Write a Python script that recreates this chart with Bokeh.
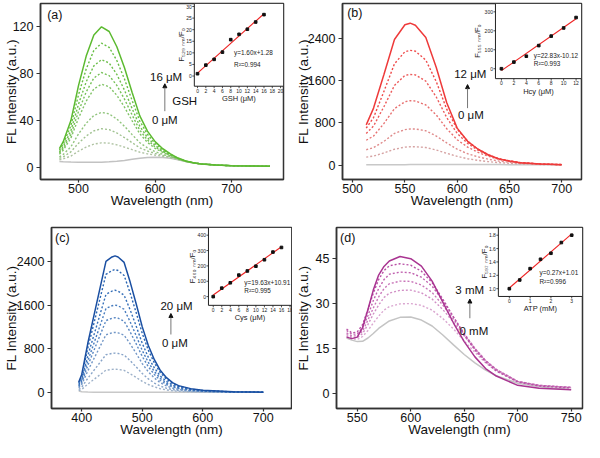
import math
from bokeh.plotting import figure
from bokeh.layouts import column, row
from bokeh.models import Range1d, FixedTicker, Arrow, NormalHead
from bokeh.core.properties import value
from bokeh.embed import file_html
from bokeh.resources import INLINE

FONT = "Liberation Sans"

# ---------------- data: panel (a) GSH ----------------
a_wl = [475, 480, 490, 500, 510, 520, 530, 540, 550, 560, 570, 580, 590, 600, 610, 620, 630, 640, 650, 660, 680, 700, 725, 750]
a_0 = [5.0, 4.8, 4.6, 4.5, 4.4, 4.4, 4.5, 4.8, 5.3, 6.0, 7.0, 7.8, 8.4, 8.6, 8.4, 7.8, 6.5, 5.0, 3.8, 3.0, 2.0, 1.5, 1.2, 1.0]
a_1 = [6.6, 7.3, 9.7, 13.9, 17.4, 19.9, 21.0, 20.7, 19.3, 17.3, 15.2, 13.0, 11.6, 10.5, 9.5, 8.3, 6.7, 5.1, 3.8, 3.0, 2.0, 1.5, 1.2, 1.0]
a_2 = [7.7, 9.0, 13.3, 20.7, 26.8, 31.2, 33.0, 32.3, 29.4, 25.5, 21.1, 16.7, 14.0, 11.9, 10.3, 8.7, 6.9, 5.1, 3.8, 3.0, 2.0, 1.5, 1.2, 1.0]
a_3 = [9.0, 11.1, 17.6, 28.6, 37.7, 44.4, 47.0, 45.7, 41.3, 35.1, 28.0, 21.1, 16.7, 13.5, 11.2, 9.2, 7.1, 5.2, 3.9, 3.0, 2.0, 1.5, 1.2, 1.0]
a_4 = [11.3, 14.7, 25.0, 42.2, 56.6, 67.0, 71.0, 68.9, 61.6, 51.5, 39.8, 28.7, 21.4, 16.3, 12.8, 9.9, 7.4, 5.3, 3.9, 3.0, 2.0, 1.5, 1.2, 1.0]
a_5 = [12.3, 16.2, 28.0, 47.9, 64.4, 76.3, 81.0, 78.4, 70.0, 58.3, 44.7, 31.8, 23.4, 17.5, 13.4, 10.2, 7.5, 5.3, 3.9, 3.0, 2.0, 1.5, 1.2, 1.0]
a_6 = [13.3, 17.8, 31.4, 54.1, 73.1, 86.7, 92.0, 89.1, 79.4, 65.9, 50.2, 35.2, 25.5, 18.8, 14.2, 10.6, 7.6, 5.4, 4.0, 3.0, 2.0, 1.5, 1.2, 1.0]
a_7 = [14.7, 19.9, 35.7, 62.1, 84.0, 99.9, 106.0, 102.5, 91.2, 75.4, 57.1, 39.6, 28.3, 20.4, 15.1, 11.1, 7.8, 5.4, 4.0, 3.0, 2.0, 1.5, 1.2, 1.0]
a_8 = [16, 22, 40, 70, 95, 113, 120, 116, 103, 85, 64, 44, 31, 22, 16, 11.5, 8, 5.5, 4.0, 3.0, 2.0, 1.5, 1.2, 1.0]
a_xticks = [500, 600, 700]
a_yticks = [0, 40, 80, 120]
gsh_x = [0, 2, 4, 6, 8, 10, 12, 14, 16]
gsh_y = [1.0, 4.7, 7.2, 10.3, 15.7, 18.0, 20.2, 23.3, 26.5]
gsh_fit_x = [0, 16]
gsh_fit_y = [1.28, 26.88]
gsh_xticks = [0, 2, 4, 6, 8, 10, 12, 14, 16, 18, 20]
gsh_yticks = [0, 5, 10, 15, 20, 25, 30]

# ---------------- data: panel (b) Hcy ----------------
b_wl = [513, 520, 530, 540, 550, 555, 560, 570, 580, 590, 600, 610, 620, 630, 640, 650, 660, 680, 700]
b_0 = [5, 5, 6, 7, 8, 9, 9, 10, 11, 12, 12, 12, 11, 10, 9, 8, 7, 5, 4]
b_1 = [150, 170, 230, 300, 340, 347, 347, 332, 285, 222, 165, 120, 88, 64, 46, 33, 23, 11, 5]
b_2 = [290, 330, 450, 600, 672, 684, 684, 650, 550, 420, 300, 215, 155, 110, 75, 52, 35, 16, 7]
b_3 = [470, 550, 790, 1070, 1200, 1219, 1215, 1140, 950, 690, 480, 340, 240, 165, 108, 72, 45, 19, 8]
b_4 = [600, 740, 1110, 1510, 1700, 1718, 1710, 1590, 1290, 900, 600, 410, 280, 185, 118, 76, 47, 20, 9]
b_5 = [700, 900, 1400, 1920, 2150, 2175, 2160, 1990, 1580, 1060, 680, 450, 300, 195, 120, 78, 48, 20, 9]
b_6 = [762, 1080, 1720, 2380, 2660, 2690, 2650, 2420, 1850, 1180, 700, 450, 300, 190, 115, 75, 45, 18, 8]
b_xticks = [500, 550, 600, 650, 700]
b_yticks = [0, 800, 1600, 2400]
hcy_x = [0, 2, 4, 6, 8, 10, 12]
hcy_y = [0, 35, 66, 122, 172, 215, 270]
hcy_fit_x = [0, 12]
hcy_fit_y = [-10.12, 263.8]
hcy_xticks = [0, 2, 4, 6, 8, 10, 12]
hcy_yticks = [0, 100, 200, 300]

# ---------------- data: panel (c) Cys ----------------
c_wl = [395, 400, 410, 420, 430, 440, 450, 455, 460, 470, 480, 490, 500, 510, 520, 530, 540, 550, 560, 580, 600, 650, 700]
c_0 = [25, 12, 8, 6, 5, 5, 5, 5, 5, 5, 5, 5, 5, 5, 5, 5, 5, 5, 5, 4, 4, 3, 3]
c_1 = [32, 56, 153, 238, 323, 408, 422, 425, 422, 405, 343, 275, 204, 146, 102, 68, 46, 31, 21, 12, 7, 2, 1]
c_2 = [55, 95, 259, 403, 547, 691, 714, 720, 714, 685, 582, 467, 346, 248, 173, 115, 78, 52, 36, 20, 12, 3, 1]
c_3 = [84, 145, 396, 616, 836, 1056, 1091, 1100, 1091, 1047, 889, 713, 528, 378, 264, 176, 119, 79, 55, 31, 18, 5, 2]
c_4 = [104, 181, 493, 767, 1041, 1315, 1359, 1370, 1359, 1304, 1107, 888, 658, 471, 329, 219, 148, 99, 69, 38, 22, 7, 3]
c_5 = [122, 211, 576, 896, 1216, 1536, 1587, 1600, 1587, 1523, 1293, 1037, 768, 550, 384, 256, 173, 115, 80, 45, 26, 8, 3]
c_6 = [142, 247, 673, 1047, 1421, 1795, 1855, 1870, 1855, 1780, 1511, 1212, 898, 643, 449, 299, 202, 135, 94, 52, 30, 9, 4]
c_7 = [171, 297, 810, 1260, 1710, 2160, 2232, 2250, 2232, 2142, 1818, 1458, 1080, 774, 540, 360, 243, 162, 113, 63, 36, 11, 5]
c_8 = [190, 330, 900, 1400, 1900, 2400, 2480, 2500, 2480, 2380, 2020, 1620, 1200, 860, 600, 400, 270, 180, 125, 70, 40, 12, 5]
c_xticks = [400, 500, 600, 700]
c_yticks = [0, 800, 1600, 2400]
cys_x = [0, 2, 4, 6, 8, 10, 12, 14, 16]
cys_y = [0, 55, 90, 140, 167, 198, 240, 290, 320]
cys_fit_x = [0, 16]
cys_fit_y = [10.91, 325.0]
cys_xticks = [0, 2, 4, 6, 8, 10, 12, 14, 16, 18]
cys_yticks = [0, 100, 200, 300, 400]

# ---------------- data: panel (d) ATP ----------------
d_wl = [540, 545, 550, 555, 560, 565, 570, 575, 580, 590, 600, 610, 620, 630, 640, 650, 660, 670, 680, 700, 720, 750]
d_0 = [18.5, 17.8, 17.3, 17.4, 18.5, 20.0, 21.7, 23.0, 24.2, 25.4, 25.5, 24.5, 22.5, 19.5, 16.2, 13.0, 10.2, 7.8, 5.9, 3.4, 2.2, 1.3]
d_1 = [19.2, 18.2, 18.0, 19.0, 21.0, 23.5, 25.8, 27.8, 29.0, 29.9, 30.0, 29.4, 27.8, 25.0, 21.5, 17.5, 13.7, 10.2, 7.5, 3.9, 2.5, 1.9]
d_2 = [19.7, 18.7, 18.6, 20.0, 23.0, 26.5, 29.5, 32.0, 33.5, 34.4, 34.5, 33.6, 31.5, 28.0, 23.8, 19.2, 14.8, 10.8, 7.9, 4.0, 2.6, 2.0]
d_3 = [20.2, 19.2, 19.2, 20.8, 24.5, 28.5, 32.2, 35.0, 36.6, 37.5, 37.4, 36.2, 33.7, 29.5, 24.8, 19.8, 15.0, 11.0, 8.0, 4.0, 2.7, 2.0]
d_4 = [21.0, 19.8, 19.8, 22.0, 26.0, 31.0, 35.0, 38.0, 39.8, 40.5, 40.3, 38.8, 35.8, 31.0, 25.5, 20.0, 15.0, 11.0, 8.0, 4.0, 2.7, 2.0]
d_5 = [21.5, 20.2, 20.5, 23.0, 28.0, 33.5, 38.0, 41.0, 42.6, 43.3, 42.8, 40.8, 37.0, 31.5, 25.5, 19.5, 14.5, 10.5, 7.5, 3.8, 2.5, 1.8]
d_6 = [18.8, 18.3, 18.8, 22.0, 28.0, 34.5, 39.5, 42.4, 44.2, 45.7, 45.0, 42.5, 37.5, 30.5, 23.5, 17.3, 12.2, 8.3, 5.8, 2.7, 1.7, 1.2]
d_xticks = [550, 600, 650, 700, 750]
d_yticks = [0, 15, 30, 45]
atp_x = [0, 0.5, 1, 1.5, 2, 2.5, 3]
atp_y = [1.00, 1.13, 1.30, 1.44, 1.53, 1.69, 1.80]
atp_fit_x = [0, 3]
atp_fit_y = [1.01, 1.82]
atp_xticks = [0, 1, 2, 3]
atp_yticks = [1.0, 1.2, 1.4, 1.6, 1.8]

W, H = 292, 221
DARK = "#333333"


def make_panel(cfg):
    bl, br, bt, bb = cfg["borders"]
    p = figure(width=W, height=H, x_range=Range1d(*cfg["xr"]), y_range=Range1d(*cfg["yr"]),
               output_backend="svg", toolbar_location=None,
               min_border_left=bl, min_border_right=br, min_border_top=bt, min_border_bottom=bb)
    p.grid.visible = False
    p.outline_line_color = DARK
    p.outline_line_width = 1.5
    p.outline_line_alpha = 1.0
    p.background_fill_color = "white"
    p.border_fill_color = "white"
    for ax in (p.xaxis[0], p.yaxis[0]):
        ax.axis_line_color = DARK
        ax.axis_line_width = 1.5
        ax.major_tick_line_color = DARK
        ax.major_tick_line_width = 1.2
        ax.major_tick_in = 0
        ax.minor_tick_line_color = None
        ax.major_label_text_font = FONT
        ax.major_label_text_font_size = "12.5px"
        ax.major_label_text_color = "#111111"
        ax.axis_label_text_font = FONT
        ax.axis_label_text_font_size = "13.5px"
        ax.axis_label_text_font_style = "normal"
        ax.axis_label_text_color = "#111111"
    p.xaxis.ticker = FixedTicker(ticks=cfg["xticks"])
    p.yaxis.ticker = FixedTicker(ticks=cfg["yticks"])
    p.xaxis.axis_label = "Wavelength (nm)"
    p.yaxis.axis_label = "FL Intensity (a.u.)"
    p.xaxis.major_tick_out = 3
    p.xaxis.major_label_standoff = 1
    p.xaxis.axis_label_standoff = -3
    p.yaxis.major_tick_out = 4
    p.yaxis.major_label_standoff = 3
    p.yaxis.axis_label_standoff = cfg["ylab_standoff"]

    wl = cfg["wl"]
    curves = cfg["curves"]
    colors = cfg["colors"]
    n = len(curves)
    for i, ys in enumerate(curves):
        if i == 0 or i == n - 1:
            p.line(wl, ys, line_color=colors[i], line_width=1.5)
        else:
            p.line(wl, ys, line_color=colors[i], line_width=1.4, line_dash="2 2")

    # annotations
    for (txt, x, y, size) in cfg["texts"]:
        p.text(x=[x], y=[y], text=[txt], text_font=value(FONT), text_font_size=value(size),
               text_align="left", text_baseline="middle", text_color="#111111")
    ax_, ay0, ay1 = cfg["arrow"]
    p.add_layout(Arrow(x_start=ax_, y_start=ay0, x_end=ax_, y_end=ay1,
                       line_color="#777777", line_width=1,
                       end=NormalHead(size=4, fill_color="#111111", line_color="#111111")))

    # inset
    ins = cfg["inset"]
    fw = W - bl - br
    fh = H - bt - bb
    fx0, fy0 = ins["fx0"], ins["fy0"]
    x0, x1 = ins["xlim"]
    y0, y1 = ins["ylim"]
    xspan = (x1 - x0) / (1 - fx0)
    yspan = (y1 - y0) / (1 - fy0)
    p.extra_x_ranges = {"ix": Range1d(x0 - fx0 * xspan, x1)}
    p.extra_y_ranges = {"iy": Range1d(y0 - fy0 * yspan, y1)}
    kx = fw / xspan
    ky = fh / yspan
    R = dict(x_range_name="ix", y_range_name="iy")
    p.quad(left=[x0], right=[x1], bottom=[y0], top=[y1], fill_color="white",
           line_color="#222222", line_width=1, **R)
    xt = ins["xticks"]
    yt = ins["yticks"]
    tl = 2.0
    p.segment(x0=xt, y0=[y0] * len(xt), x1=xt, y1=[y0 - tl / ky] * len(xt),
              line_color="#222222", line_width=0.8, **R)
    p.segment(x0=[x0] * len(yt), y0=yt, x1=[x0 - tl / kx] * len(yt), y1=yt,
              line_color="#222222", line_width=0.8, **R)
    p.text(x=xt, y=[y0] * len(xt), text=ins["xlabels"], text_align="center", text_baseline="top",
           y_offset=2.5, text_font=value(FONT), text_font_size=value("5px"), text_color="#222222", **R)
    p.text(x=[x0] * len(yt), y=yt, text=ins["ylabels"], text_align="right", text_baseline="middle",
           x_offset=-2.5, text_font=value(FONT), text_font_size=value("5px"), text_color="#222222", **R)
    p.text(x=[(x0 + x1) / 2], y=[y0], text=[ins["xtitle"]], text_align="center", text_baseline="middle",
           y_offset=12.5, text_font=value(FONT), text_font_size=value("7.5px"), text_color="#222222", **R)
    p.text(x=[x0], y=[(y0 + y1) / 2], text=[ins["ytitle"]], text_align="center", text_baseline="middle",
           x_offset=ins["ytitle_off"], angle=math.pi / 2, text_font=value(FONT),
           text_font_size=value("7.5px"), text_color="#222222", **R)
    p.line(ins["fit_x"], ins["fit_y"], line_color="#EE2222", line_width=1.1, **R)
    p.scatter(ins["x"], ins["y"], marker="square", size=2.6, fill_color="#111111", line_color="#111111", **R)
    ex, ey1, ey2 = ins["eq_pos"]
    p.text(x=[ex, ex], y=[ey1, ey2], text=ins["eq"], text_align="left", text_baseline="middle",
           text_font=value(FONT), text_font_size=value("6.4px"), text_color="#222222", **R)
    return p


def fmt_int(v):
    return [str(int(t)) for t in v]


pa = make_panel(dict(
    borders=(39, 9, 3, 38), xr=(450.3, 767.7), yr=(-10.3, 139.9),
    xticks=a_xticks, yticks=a_yticks, ylab_standoff=-9,
    wl=a_wl, curves=[a_0, a_1, a_2, a_3, a_4, a_5, a_6, a_7, a_8],
    colors=["#C2C2C2", "#AFC3A2", "#A0C290", "#90C47C", "#80C366", "#76C158", "#6EBF4D", "#67BE44", "#5CBA30"],
    texts=[("(a)", 459, 130, "12.5px"), ("16 μM", 593.3, 77, "11.5px"),
           ("GSH", 622.4, 57, "11.5px"), ("0 μM", 595.8, 40.8, "11.5px")],
    arrow=(612.7, 48, 71.4),
    inset=dict(fx0=0.633, fy0=0.53, xlim=(-0.77, 20.7), ylim=(-4.4, 31.3),
               xticks=gsh_xticks, yticks=gsh_yticks, xlabels=fmt_int(gsh_xticks), ylabels=fmt_int(gsh_yticks),
               xtitle="GSH (μM)", ytitle="F₅₂₉ ₙₘ/F₀", ytitle_off=-13,
               x=gsh_x, y=gsh_y, fit_x=gsh_fit_x, fit_y=gsh_fit_y,
               eq=["y=1.60x+1.28", "R²=0.994"], eq_pos=(8.8, 10.3, 5.0)),
))

pb = make_panel(dict(
    borders=(44, 3, 3, 42), xr=(490.3, 718.9), yr=(-274, 3063),
    xticks=b_xticks, yticks=b_yticks, ylab_standoff=-6,
    wl=b_wl, curves=[b_0, b_1, b_2, b_3, b_4, b_5, b_6],
    colors=["#C8C8C8", "#D6A3A3", "#DF8B8B", "#E77070", "#EC5A5A", "#EF4A4A", "#EE3A3A"],
    texts=[("(b)", 494.8, 2880, "12.5px"), ("12 μM", 597.1, 1731, "11.5px"), ("0 μM", 600.8, 958, "11.5px")],
    arrow=(609.9, 1079, 1525),
    inset=dict(fx0=0.640, fy0=0.573, xlim=(-0.96, 12.87), ylim=(-52.4, 344),
               xticks=hcy_xticks, yticks=hcy_yticks, xlabels=fmt_int(hcy_xticks), ylabels=fmt_int(hcy_yticks),
               xtitle="Hcy (μM)", ytitle="F₅₅₅ ₙₘ/F₀", ytitle_off=-18,
               x=hcy_x, y=hcy_y, fit_x=hcy_fit_x, fit_y=hcy_fit_y,
               eq=["y=22.83x-10.12", "R²=0.993"], eq_pos=(5.2, 71, 29)),
))

pc = make_panel(dict(
    borders=(48, 1, 6, 34), xr=(350.0, 746.6), yr=(-293.6, 3019),
    xticks=c_xticks, yticks=c_yticks, ylab_standoff=-5,
    wl=c_wl, curves=[c_0, c_1, c_2, c_3, c_4, c_5, c_6, c_7, c_8],
    colors=["#C8C8C8", "#9DB1C9", "#88A4C8", "#7196C6", "#5A88C3", "#467BBE", "#356FB8", "#2965B2", "#1A4FA2"],
    texts=[("(c)", 355.8, 2830, "12.5px"), ("20 μM", 530, 1574, "11.5px"), ("0 μM", 532.6, 897, "11.5px")],
    arrow=(547.3, 1061, 1445),
    inset=dict(fx0=0.654, fy0=0.57, xlim=(-1.12, 18.35), ylim=(-56.8, 450),
               xticks=cys_xticks, yticks=cys_yticks, xlabels=fmt_int(cys_xticks), ylabels=fmt_int(cys_yticks),
               xtitle="Cys (μM)", ytitle="F₄₆₀ ₙₘ/F₀", ytitle_off=-16,
               x=cys_x, y=cys_y, fit_x=cys_fit_x, fit_y=cys_fit_y,
               eq=["y=19.63x+10.91", "R²=0.995"], eq_pos=(7.3, 89, 41)),
))

pd_ = make_panel(dict(
    borders=(43, 2, 6, 34), xr=(530.6, 760.6), yr=(-5.04, 55.4),
    xticks=d_xticks, yticks=d_yticks, ylab_standoff=2,
    wl=d_wl, curves=[d_0, d_1, d_2, d_3, d_4, d_5, d_6],
    colors=["#C4C4C4", "#DAA6D0", "#D18EC5", "#C976B9", "#C062AF", "#B950A6", "#A93491"],
    texts=[("(d)", 533.9, 52, "12.5px"), ("3 mM", 641.7, 34.4, "11.5px"), ("0 mM", 645.6, 20.8, "11.5px")],
    arrow=(655.3, 25.1, 31.5),
    inset=dict(fx0=0.658, fy0=0.619, xlim=(-0.527, 3.518), ylim=(0.884, 1.915),
               xticks=atp_xticks, yticks=atp_yticks, xlabels=fmt_int(atp_xticks),
               ylabels=["%.1f" % t for t in atp_yticks],
               xtitle="ATP (mM)", ytitle="F₅₉₇ ₙₘ/F₀", ytitle_off=-14,
               x=atp_x, y=atp_y, fit_x=atp_fit_x, fit_y=atp_fit_y,
               eq=["y=0.27x+1.01", "R²=0.996"], eq_pos=(1.45, 1.24, 1.11)),
))

layout = column(row(pa, pb), row(pc, pd_))
open("out.html", "w").write(file_html(layout, INLINE))
